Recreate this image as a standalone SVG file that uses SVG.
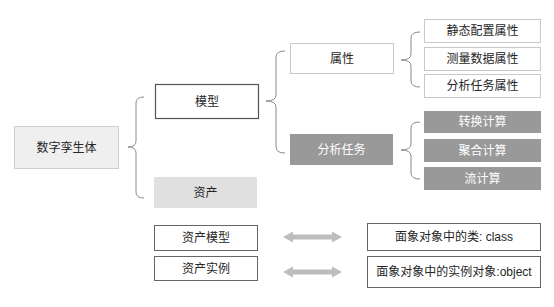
<svg xmlns="http://www.w3.org/2000/svg" width="554" height="307" viewBox="0 0 554 307">
<style>
text{font-family:"Liberation Sans","Noto Sans CJK SC",sans-serif;font-size:12px;fill:#262626;text-anchor:middle;dominant-baseline:central}
.w{fill:#fff}
.light{fill:#fff;stroke:#c8c8c8;stroke-width:1}
.gray{fill:#999;stroke:none}
.brace{fill:none;stroke:#8a8a8a;stroke-width:1}
.out{fill:#fff;stroke:#666;stroke-width:1}
.arr{fill:#bdbdbd}
</style>
<rect width="554" height="307" fill="#fff"/>
<g id="connectors">
<path class="brace" d="M144,97 Q136,97 136,103 L136,141 Q136,147 128,147 Q136,147 136,153 L136,192 Q136,198 144,198"/>
<path class="brace" d="M285,51 Q276,51 276,57 L276,95 Q276,101 266,101 Q276,101 276,107 L276,147 Q276,153 285,153"/>
<path class="brace" d="M420,32 Q411,32 411,38 L411,54 Q411,60 401,60 Q411,60 411,66 L411,81 Q411,87 420,87"/>
<path class="brace" d="M420,122 Q411,122 411,128 L411,144 Q411,150 401,150 Q411,150 411,156 L411,173 Q411,179 420,179"/>
<path class="arr" d="M283,237 L293,231.5 L293,234.5 L332,234.5 L332,231.5 L342,237 L332,242.5 L332,239.5 L293,239.5 L293,242.5 Z"/>
<path class="arr" d="M283,272 L293,266.5 L293,269.5 L332,269.5 L332,266.5 L342,272 L332,277.5 L332,274.5 L293,274.5 L293,277.5 Z"/>
</g>
<g id="root"><rect x="14.5" y="126.5" width="104" height="42" fill="#efefef" stroke="#cfcfcf"/><text x="66.5" y="147.5">数字孪生体</text></g>
<g id="model"><rect x="155.5" y="84.5" width="103" height="34" fill="#fff" stroke="#555" stroke-width="1.2"/><text x="207" y="101.5">模型</text></g>
<g id="asset"><rect x="154" y="177" width="103" height="31" fill="#e0e0e0"/><text x="205.5" y="192.5">资产</text></g>
<g id="attr"><rect class="light" x="290.5" y="43.5" width="103" height="30"/><text x="342" y="58.5">属性</text></g>
<g id="task"><rect class="gray" x="290" y="134" width="103" height="31"/><text class="w" x="341.5" y="149.5">分析任务</text></g>
<g id="a1"><rect class="light" x="424.5" y="19.5" width="116" height="23"/><text x="482.5" y="31">静态配置属性</text></g>
<g id="a2"><rect class="light" x="424.5" y="47.5" width="116" height="23"/><text x="482.5" y="59">测量数据属性</text></g>
<g id="a3"><rect class="light" x="424.5" y="74.5" width="116" height="23"/><text x="482.5" y="86">分析任务属性</text></g>
<g id="t1"><rect class="gray" x="424" y="111" width="117" height="22"/><text class="w" x="482.5" y="122">转换计算</text></g>
<g id="t2"><rect class="gray" x="424" y="139" width="117" height="23"/><text class="w" x="482.5" y="150.5">聚合计算</text></g>
<g id="t3"><rect class="gray" x="424" y="167" width="117" height="23"/><text class="w" x="482.5" y="178.5">流计算</text></g>
<g id="b1"><rect class="out" x="154.5" y="225.5" width="103" height="25"/><text x="206" y="238">资产模型</text></g>
<g id="b2"><rect class="out" x="154.5" y="256.5" width="103" height="24"/><text x="206" y="268.5">资产实例</text></g>
<g id="c1"><rect class="out" x="367.5" y="223.5" width="173" height="27"/><text x="454" y="237">面象对象中的类: class</text></g>
<g id="c2"><rect class="out" x="367.5" y="256.5" width="173" height="31"/><text x="454" y="272">面象对象中的实例对象:object</text></g>
</svg>
